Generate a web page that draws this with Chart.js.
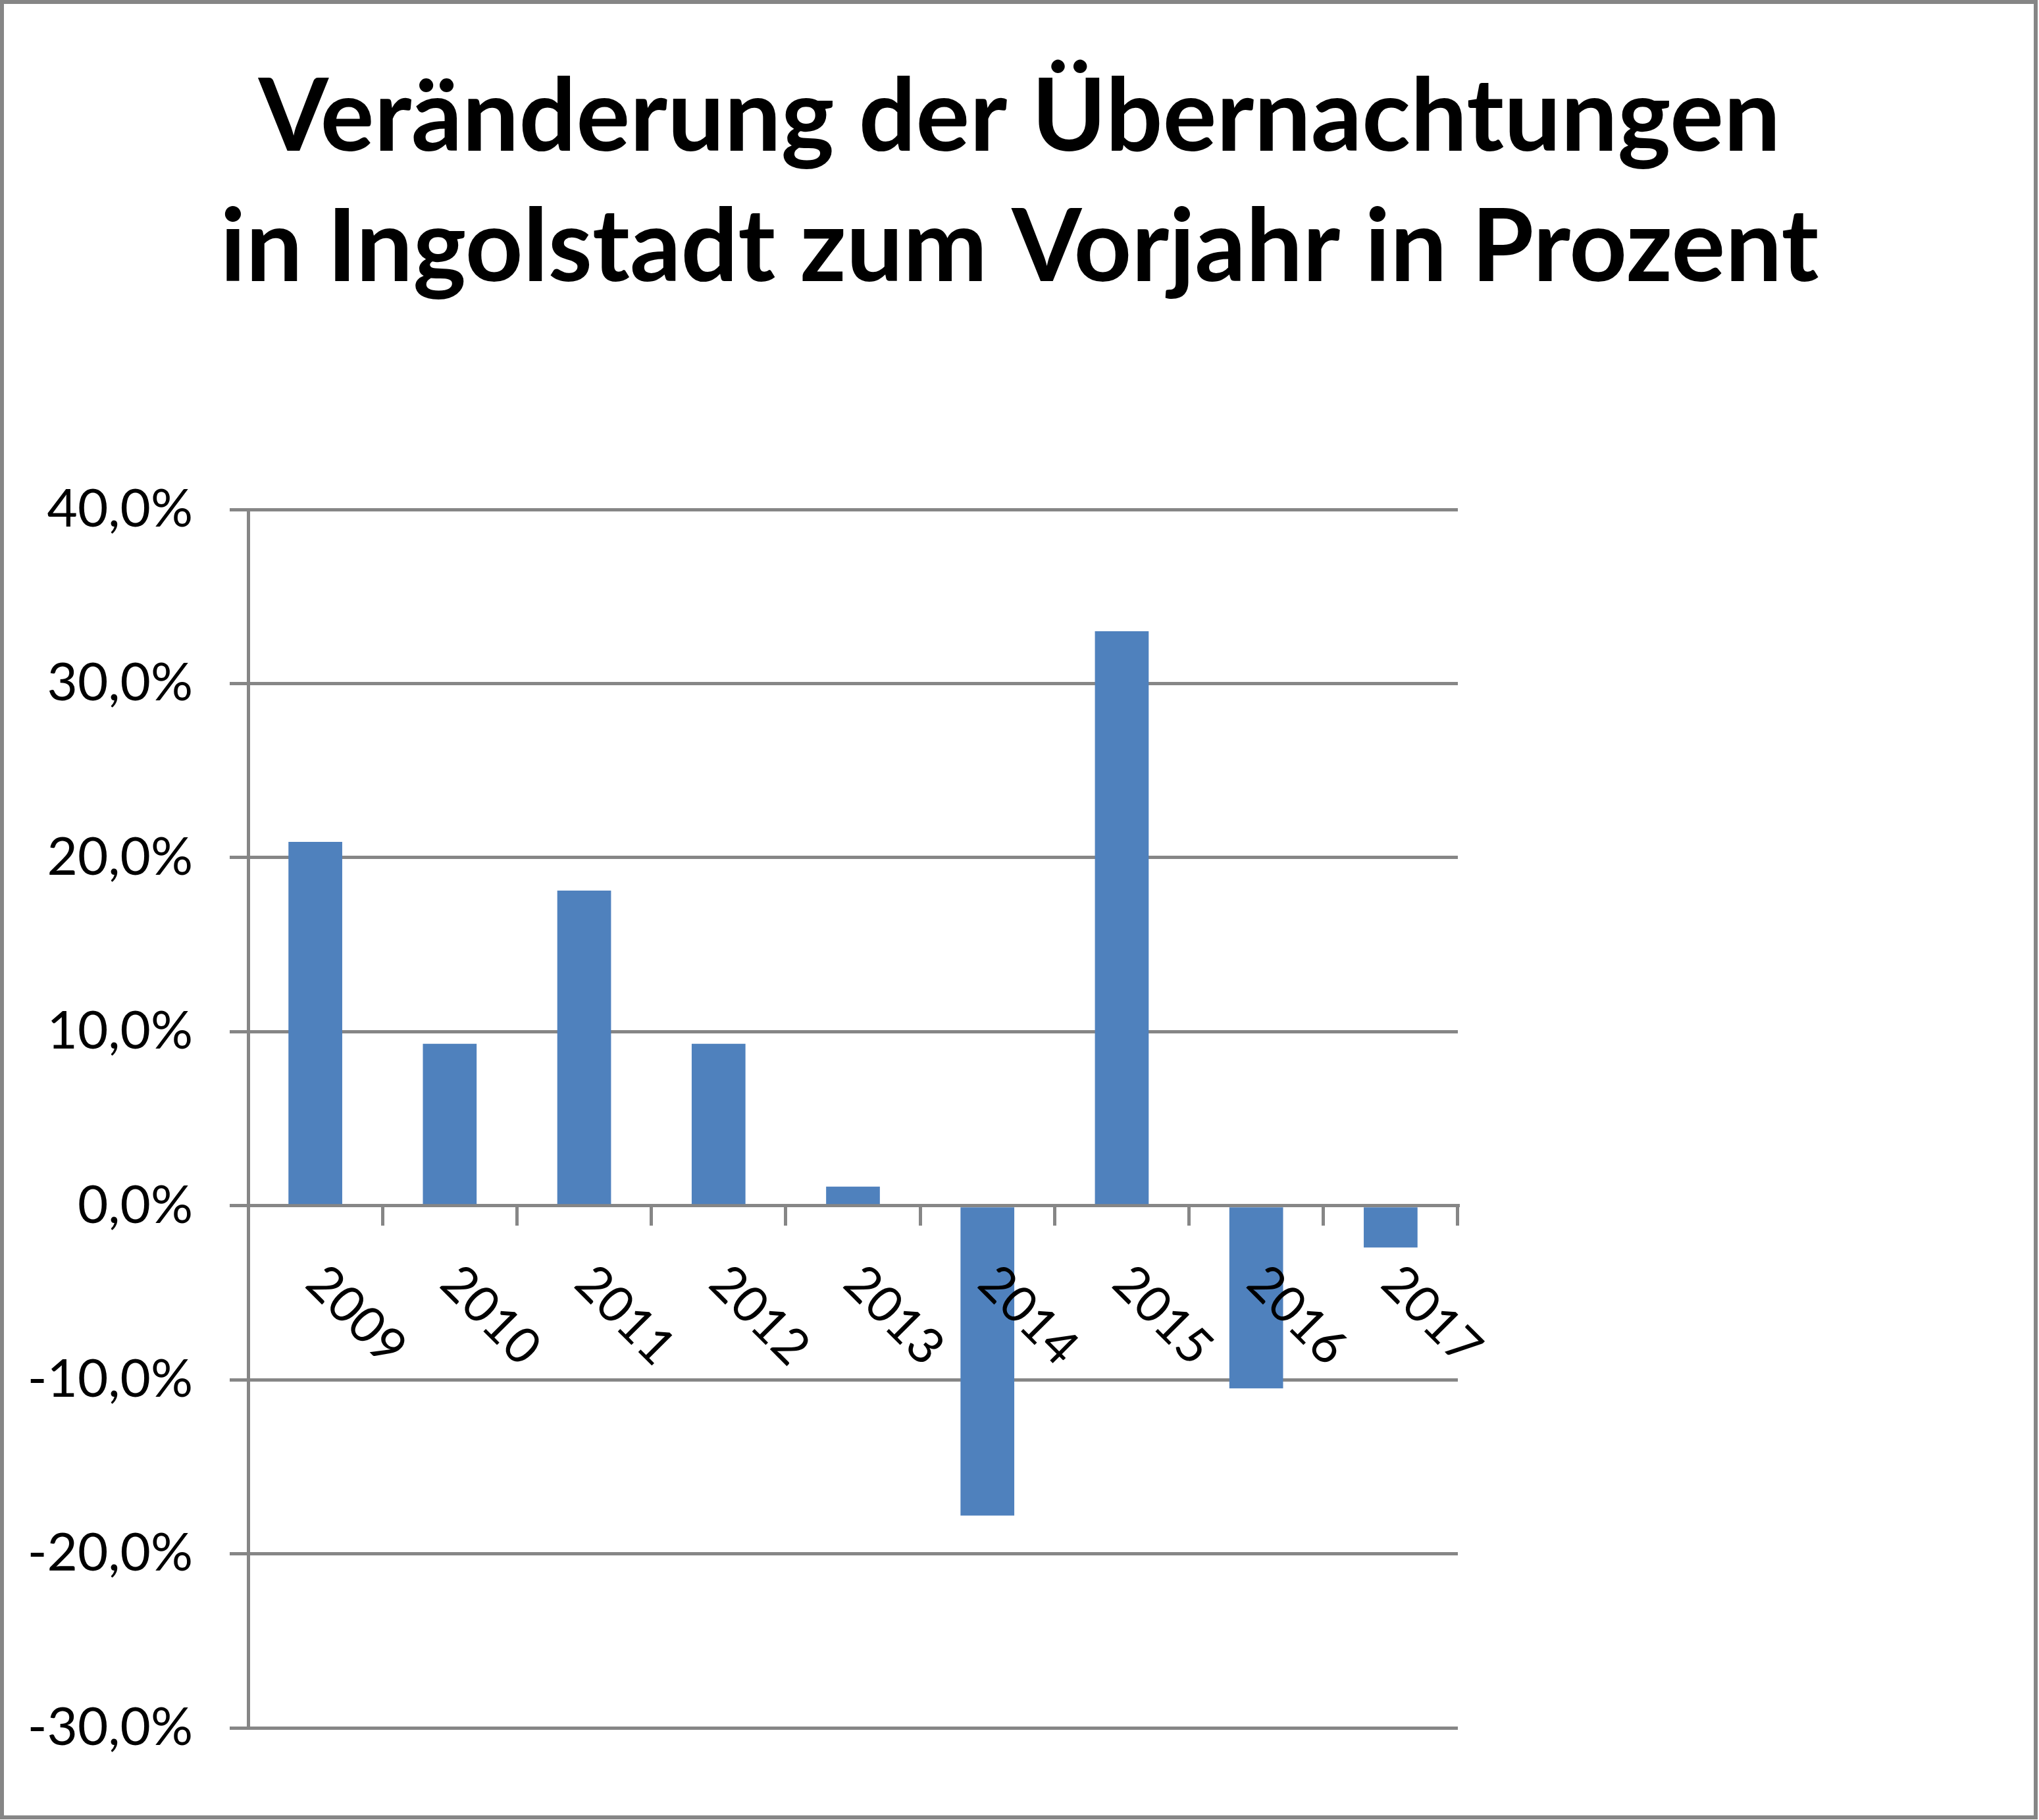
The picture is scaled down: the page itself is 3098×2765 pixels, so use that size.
<!DOCTYPE html>
<html>
<head>
<meta charset="utf-8">
<script src="https://cdn.jsdelivr.net/npm/chart.js@4/dist/chart.umd.min.js"></script>
<style>
  html, body { margin: 0; padding: 0; background: #ffffff; }
  #c { display: block; }
</style>
</head>
<body>
<canvas id="c" width="3098" height="2765"></canvas>
<script>
const titleLines = ["Veränderung der Übernachtungen", "in Ingolstadt zum Vorjahr in Prozent"];
const years = ["2009", "2010", "2011", "2012", "2013", "2014", "2015", "2016", "2017"];
const changePercent = [20.9, 9.3, 18.1, 9.3, 1.1, -17.8, 33.0, -10.5, -2.4];
const yMin = -30, yMax = 40, yStep = 10;

const GRAY = '#868686';
const FONT = 'Lato, Carlito, Calibri, "Open Sans", sans-serif';

const framePlugin = {
  id: 'frame',
  beforeDraw(chart) {
    const ctx = chart.ctx;
    ctx.save();
    ctx.fillStyle = '#ffffff';
    ctx.fillRect(0, 0, chart.width, chart.height);
    ctx.strokeStyle = GRAY;
    ctx.lineWidth = 6;
    ctx.strokeRect(3, 3, chart.width - 8, chart.height - 7);
    ctx.restore();
  },
  afterDraw(chart) {
    const ctx = chart.ctx;
    ctx.save();
    ctx.fillStyle = '#000000';
    ctx.textAlign = 'center';
    ctx.textBaseline = 'alphabetic';
    ctx.font = 'bold 153px ' + FONT;
    ctx.fillText(titleLines[0], chart.width / 2, 229);
    ctx.fillText(titleLines[1], chart.width / 2, 427);
    ctx.restore();
  }
};

const xLabelPlugin = {
  id: 'xLabels',
  afterDatasetsDraw(chart) {
    const ctx = chart.ctx;
    const xs = chart.scales.x, ys = chart.scales.y;
    const y0 = ys.getPixelForValue(0);
    ctx.save();
    ctx.fillStyle = '#000000';
    ctx.font = '76px ' + FONT;
    ctx.textAlign = 'left';
    ctx.textBaseline = 'alphabetic';
    years.forEach((lab, i) => {
      const x = xs.getPixelForValue(i);
      ctx.save();
      ctx.translate(x - 18, y0 + 122);
      ctx.rotate(Math.PI / 4);
      ctx.fillText(lab, 0, 0);
      ctx.restore();
    });
    ctx.restore();
  }
};

new Chart(document.getElementById('c'), {
  type: 'bar',
  data: {
    labels: years,
    datasets: [{
      data: changePercent,
      backgroundColor: '#4F81BD',
      borderWidth: 0,
      categoryPercentage: 1.0,
      barPercentage: 0.4
    }]
  },
  options: {
    responsive: false,
    animation: false,
    devicePixelRatio: 1,
    layout: { padding: { top: 774, right: 883, bottom: 140, left: 0 } },
    plugins: { legend: { display: false }, title: { display: false }, tooltip: { enabled: false } },
    scales: {
      x: {
        position: { y: 0 },
        offset: true,
        grid: { drawOnChartArea: false, drawTicks: true, tickLength: 28, color: GRAY, lineWidth: 5, offset: true },
        border: { display: true, color: GRAY, width: 5 },
        ticks: { display: false }
      },
      y: {
        min: yMin,
        max: yMax,
        afterFit(scale) { scale.width = 377; },
        grid: { color: GRAY, lineWidth: 5, drawTicks: true, tickLength: 28 },
        border: { display: true, color: GRAY, width: 5 },
        ticks: {
          stepSize: yStep,
          padding: 56,
          color: '#000000',
          font: { family: FONT, size: 80 },
          callback: v => v.toFixed(1).replace('.', ',') + '%'
        }
      }
    }
  },
  plugins: [framePlugin, xLabelPlugin]
});
</script>
</body>
</html>
